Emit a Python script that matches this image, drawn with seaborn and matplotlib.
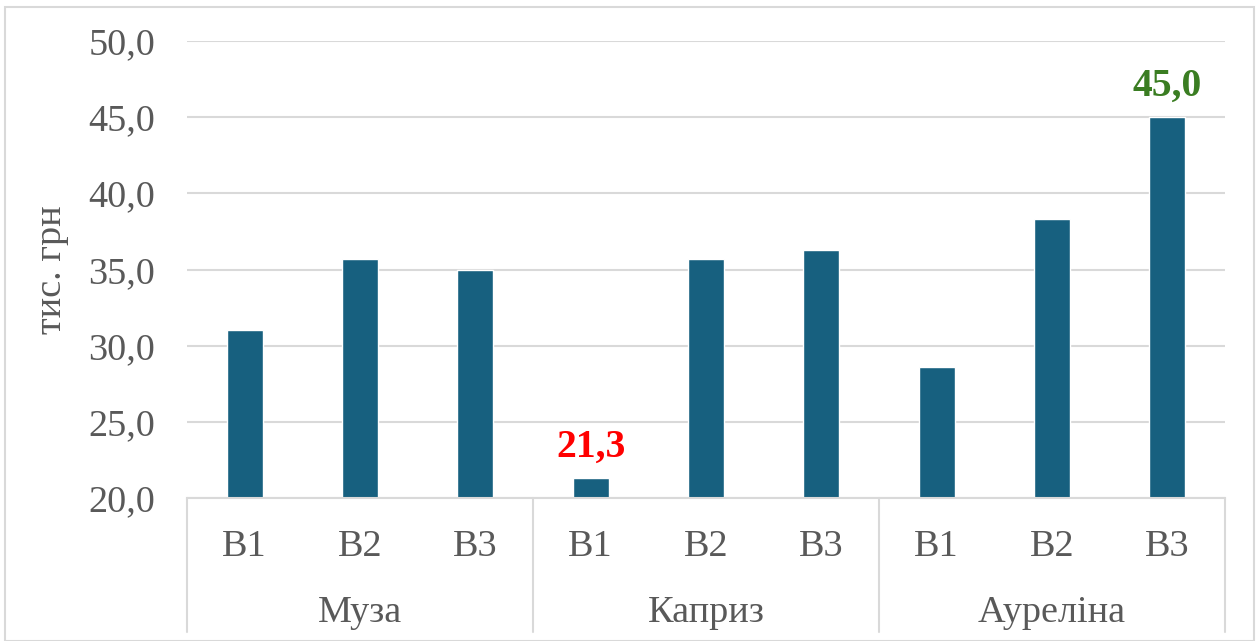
import matplotlib
matplotlib.use("Agg")
import matplotlib.pyplot as plt
import seaborn as sns
import pandas as pd
from matplotlib.patches import Rectangle
from matplotlib.transforms import blended_transform_factory

groups = ["Муза", "Каприз", "Ауреліна"]
variants = ["B1", "B2", "B3"]
values = [31.0, 35.7, 35.0, 21.3, 35.7, 36.3, 28.6, 38.3, 45.0]
highlight = {3: ("21,3", "#FF0000"), 8: ("45,0", "#3A7D22")}
y_ticks = [20, 25, 30, 35, 40, 45, 50]

keys = [f"{g} {v}" for g in groups for v in variants]
df = pd.DataFrame({"key": keys, "value": values})

sns.set_theme(style="white")
plt.rcParams['font.family'] = ['Liberation Serif', 'DejaVu Serif']

fig = plt.figure(figsize=(12.59, 6.41), dpi=100)
ax = fig.add_axes([187/1259, 1-498/641, (1225-187)/1259, (498-41)/641])

sns.barplot(data=df, x="key", y="value", order=keys, color="#17607F",
            width=0.31, ax=ax, saturation=1)

ax.set_ylim(20, 50)
ax.set_xlim(-0.5, len(keys) - 0.5)
ax.set_yticks(y_ticks)
ax.set_yticklabels([f"{t:.1f}".replace(".", ",") for t in y_ticks])
ax.set_xticks(range(len(keys)))
ax.set_xticklabels(variants * len(groups))
ax.tick_params(axis='y', length=0, pad=23, labelsize=27.5, labelcolor="#595959")
ax.tick_params(axis='x', length=0, pad=23, labelsize=27.5, labelcolor="#595959")
ax.set_xlabel("")
ax.set_ylabel("тис. грн", fontsize=27.5, color="#595959", labelpad=14)

ax.yaxis.grid(True, color="#D9D9D9", linewidth=1.5)
ax.set_axisbelow(True)
for s in ["top", "right", "left"]:
    ax.spines[s].set_visible(False)
ax.spines["bottom"].set_color("#D9D9D9")
ax.spines["bottom"].set_linewidth(1.5)

trans = blended_transform_factory(ax.transData, ax.transAxes)
for b in [-0.5, 2.5, 5.5, 8.5]:
    ax.plot([b, b], [0, -0.293], transform=trans, color="#D9D9D9",
            linewidth=1.5, clip_on=False)
for i, g in enumerate(groups):
    ax.text(i * 3 + 1, -0.251, g, transform=trans, ha="center", va="center",
            fontsize=27.5, color="#595959")

for idx, (txt, col) in highlight.items():
    ax.annotate(txt, (idx, values[idx]), xytext=(0, 9), textcoords="offset points",
                ha="center", va="bottom", fontsize=28.5, fontweight="bold", color=col)

fig.patches.append(Rectangle((5/1259, 0), 1249/1259, 1-7/641, transform=fig.transFigure,
                             fill=False, edgecolor="#D9D9D9", linewidth=1.5))

fig.savefig("out.png", dpi=100)
